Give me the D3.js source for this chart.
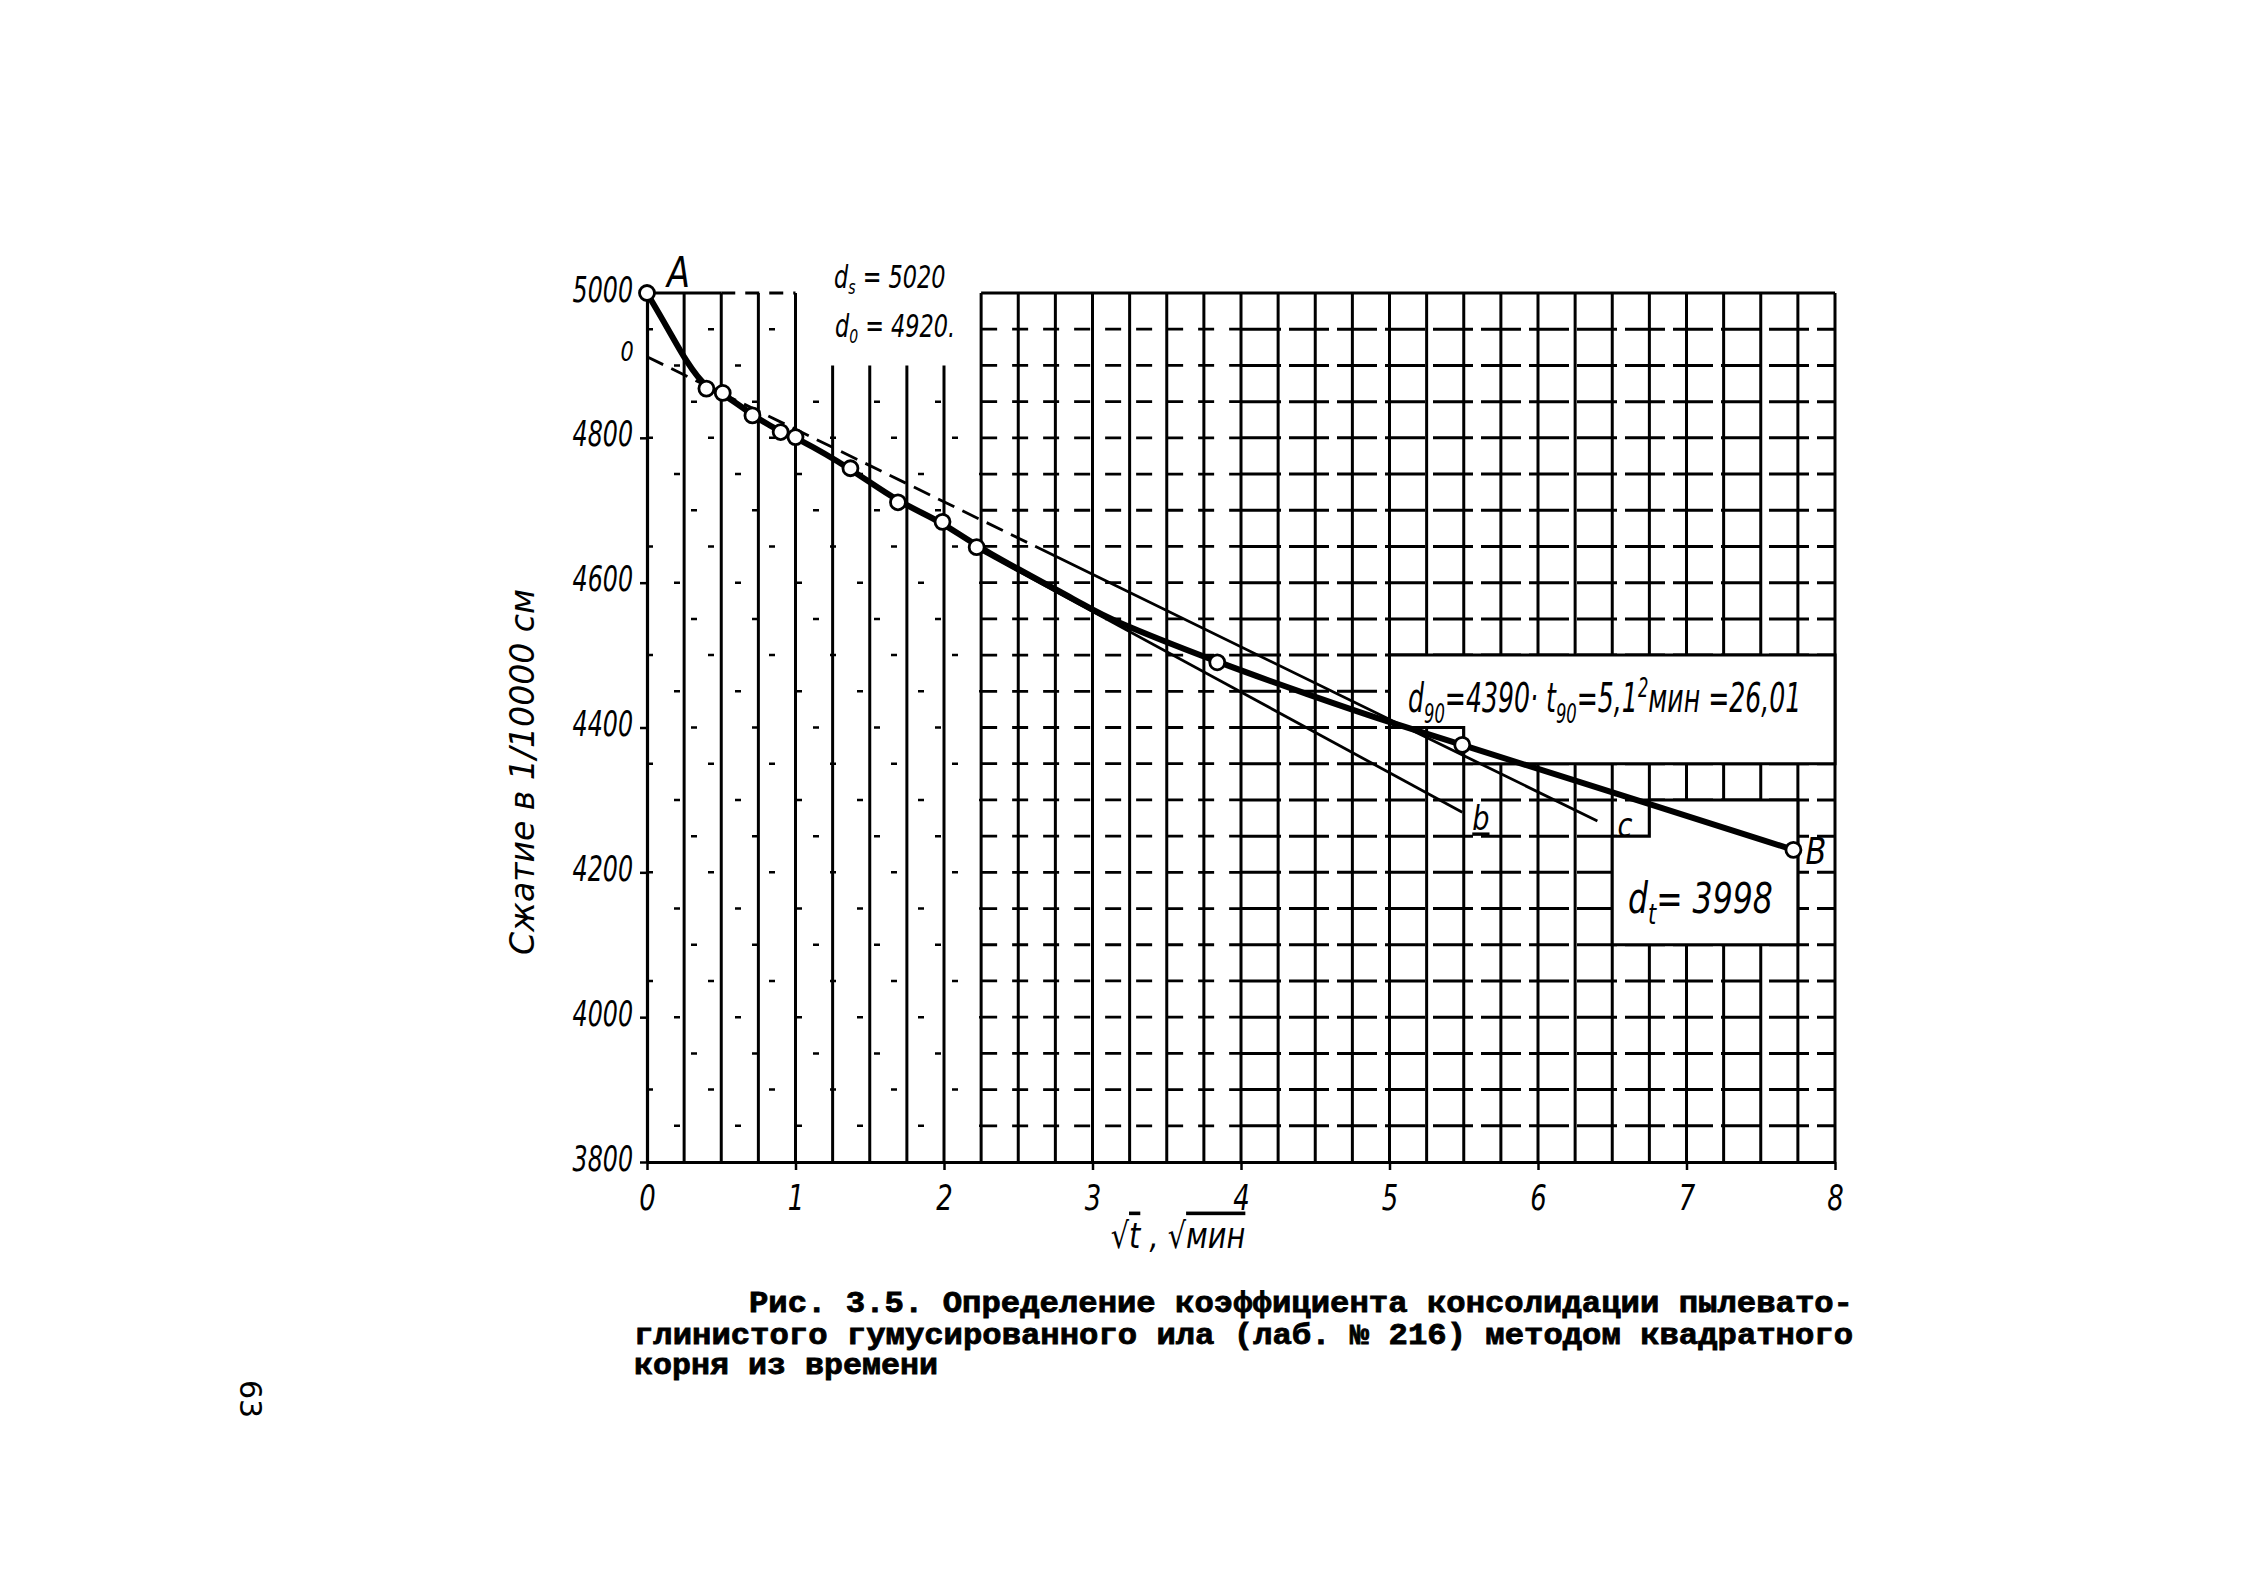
<!DOCTYPE html>
<html><head><meta charset="utf-8">
<script src="https://cdn.jsdelivr.net/npm/d3@7"></script>
<style>
html,body{margin:0;padding:0;background:#fff;}
svg{display:block;}
</style></head>
<body>
<svg id="chart" width="2244" height="1595"></svg>
<script>
// ---------------- data ----------------
const xTicks = [0, 1, 2, 3, 4, 5, 6, 7, 8];
const yTicks = [3800, 4000, 4200, 4400, 4600, 4800, 5000];
const yTickLabels = ["3800", "4000", "4200", "4400", "4600", "4800", "5000"];

// thick experimental curve A -> B
const curveX = [0, 0.135, 0.27, 0.40, 0.51, 0.71, 0.90, 1.00, 1.37, 1.69, 1.99, 2.22, 2.98, 3.07, 3.84, 4.46, 4.97, 5.49, 6.45, 7.72];
const curveY = [5000, 4953, 4903, 4868, 4862, 4831, 4808, 4801, 4758, 4711, 4684, 4649, 4566, 4553, 4490, 4445, 4409, 4376, 4314, 4231];

// measured points (open circles)
const pointX = [0, 0.40, 0.51, 0.71, 0.90, 1.00, 1.37, 1.69, 1.99, 2.22, 3.84, 5.49, 7.72];
const pointY = [5000, 4868, 4862, 4831, 4808, 4801, 4758, 4711, 4684, 4649, 4490, 4376, 4231];

// construction lines
const lineBX = [2.22, 5.49];
const lineBY = [4647, 4283];
const lineCX = [0, 6.40];
const lineCY = [4912, 4271];
const lineCDashedUntil = 2.6;

// white label boxes (data space vertices)
const boxD90 = [[5, 4400], [5, 4500], [8, 4500], [8, 4350], [5.5, 4350], [5.5, 4400]];
const boxDt = [[6.5, 4100], [6.5, 4250], [6.75, 4250], [6.75, 4300], [7.75, 4300], [7.75, 4100]];

const captionLines = [
  "Рис. 3.5. Определение коэффициента консолидации пылевато-",
  "глинистого гумусированного ила (лаб. № 216) методом квадратного",
  "корня из времени"
];

// ---------------- drawing ----------------
const svg = d3.select("#chart");
const hand = "'DejaVu Sans','Liberation Sans',sans-serif";
const mono = "'Liberation Mono','DejaVu Sans Mono',monospace";

const x = d3.scaleLinear().domain([0, 8]).range([647, 1835]);
const y = d3.scaleLinear().domain([3800, 5000]).range([1162, 293]);

const grid = svg.append("g").attr("stroke", "#000").attr("fill", "none");

// horizontal grid lines (every 50)
const hVals = d3.range(3850, 5000, 50);
hVals.forEach(v => {
  const leftEnd = v >= 4900 ? 1.0 : 2.25;
  grid.append("line").attr("x1", x(0)).attr("x2", x(leftEnd)).attr("y1", y(v)).attr("y2", y(v))
    .attr("stroke-width", 2.5).attr("stroke-dasharray", "6,55").attr("stroke-dashoffset", (v / 50) % 3 * 17);
  grid.append("line").attr("x1", x(2.25)).attr("x2", x(4.0)).attr("y1", y(v)).attr("y2", y(v))
    .attr("stroke-width", 2.8).attr("stroke-dasharray", "16,15");
  grid.append("line").attr("x1", x(4.0)).attr("x2", x(8)).attr("y1", y(v)).attr("y2", y(v))
    .attr("stroke-width", 3).attr("stroke-dasharray", "40,8");
});

// vertical grid lines (every 0.25)
const vVals = d3.range(0.25, 8.01, 0.25);
vVals.forEach(u => {
  const top = (u > 1.1 && u < 2.1) ? y(4900) : y(5000);
  grid.append("line").attr("x1", x(u)).attr("x2", x(u)).attr("y1", top).attr("y2", y(3800))
    .attr("stroke-width", 3);
});

// top border pieces
grid.append("line").attr("x1", x(0)).attr("x2", x(0.5)).attr("y1", y(5000)).attr("y2", y(5000)).attr("stroke-width", 3);
grid.append("line").attr("x1", x(0.5)).attr("x2", x(1.0)).attr("y1", y(5000)).attr("y2", y(5000)).attr("stroke-width", 3).attr("stroke-dasharray", "14,10");
grid.append("line").attr("x1", x(2.25)).attr("x2", x(8)).attr("y1", y(5000)).attr("y2", y(5000)).attr("stroke-width", 3.2);

// white boxes
const poly = d3.line().x(d => x(d[0])).y(d => y(d[1]));
[boxD90, boxDt].forEach(b => {
  svg.append("path").attr("d", poly(b) + "Z").attr("fill", "#fff").attr("stroke", "#000").attr("stroke-width", 3);
});

// axes
const xAxis = d3.axisBottom(x).tickValues(xTicks).tickSize(8).tickSizeOuter(0).tickPadding(0)
  .tickFormat(d3.format("d"));
const gx = svg.append("g").attr("transform", `translate(0,${y(3800)})`).call(xAxis);
gx.select(".domain").attr("stroke", "#000").attr("stroke-width", 3.2);
gx.selectAll(".tick line").attr("stroke", "#000").attr("stroke-width", 2.5);
gx.selectAll(".tick text").attr("font-family", hand).attr("font-style", "italic")
  .attr("font-size", 36).attr("fill", "#000").attr("y", 0).attr("dy", null)
  .attr("transform", "translate(0,48) scale(0.72,1)");

const yAxis = d3.axisLeft(y).tickValues(yTicks).tickSize(7).tickSizeOuter(0).tickPadding(0)
  .tickFormat((d, i) => yTickLabels[i]);
const gy = svg.append("g").attr("transform", `translate(${x(0)},0)`).call(yAxis);
gy.select(".domain").attr("stroke", "#000").attr("stroke-width", 3.2);
gy.selectAll(".tick line").attr("stroke", "#000").attr("stroke-width", 2.5);
gy.selectAll(".tick text").attr("font-family", hand).attr("font-style", "italic")
  .attr("font-size", 36).attr("fill", "#000").attr("x", 0).attr("dy", null)
  .attr("transform", "translate(-14,8) scale(0.66,1)");

// construction lines
const lineGen = d3.line().x(d => x(d[0])).y(d => y(d[1]));
const cPath = svg.append("path").attr("d", lineGen(lineCX.map((v, i) => [v, lineCY[i]])))
  .attr("fill", "none").attr("stroke", "#000").attr("stroke-width", 2.8);
{
  const L = cPath.node().getTotalLength();
  const frac = (lineCDashedUntil - lineCX[0]) / (lineCX[1] - lineCX[0]);
  const dashLen = L * frac;
  const pattern = [];
  let acc = 0;
  while (acc < dashLen) { pattern.push(18, 9); acc += 27; }
  pattern.push(L);
  cPath.attr("stroke-dasharray", pattern.join(","));
}
svg.append("path").attr("d", lineGen(lineBX.map((v, i) => [v, lineBY[i]])))
  .attr("fill", "none").attr("stroke", "#000").attr("stroke-width", 2.8);

// main curve
const curveGen = d3.line().x(d => x(d[0])).y(d => y(d[1])).curve(d3.curveBasis);
svg.append("path").attr("d", curveGen(curveX.map((v, i) => [v, curveY[i]])))
  .attr("fill", "none").attr("stroke", "#000").attr("stroke-width", 6).attr("stroke-linejoin", "round");

// points
svg.append("g").selectAll("circle").data(pointX.map((v, i) => [v, pointY[i]])).join("circle")
  .attr("cx", d => x(d[0])).attr("cy", d => y(d[1])).attr("r", 7.5)
  .attr("fill", "#fff").attr("stroke", "#000").attr("stroke-width", 2.8);

// ---------------- texts ----------------
function label(xp, yp, size, sx) {
  const g = svg.append("g").attr("transform", `translate(${xp},${yp}) scale(${sx || 0.75},1)`);
  return g.append("text").attr("x", 0).attr("y", 0).attr("font-family", hand)
    .attr("font-style", "italic").attr("font-size", size).attr("fill", "#000");
}
label(x(0) + 20, y(5000) - 6, 42, 0.8).text("A");
label(x(7.72) + 12, y(4231) + 14, 38, 0.8).text("B");
label(x(5.49) + 10, y(4283) + 18, 34, 0.8).attr("text-decoration", "underline").text("b");
label(x(6.40) + 20, y(4271) + 16, 34, 0.8).text("c");
label(x(0) - 20, y(4920) + 10, 26, 0.8).attr("text-anchor", "middle").text("0");

// d_s, d_0
const ds = label(834, 288, 32, 0.7);
ds.append("tspan").text("d");
ds.append("tspan").attr("font-size", 20).attr("dy", 6).text("s");
ds.append("tspan").attr("dy", -6).text(" = 5020");
const d0 = label(835, 337, 32, 0.7);
d0.append("tspan").text("d");
d0.append("tspan").attr("font-size", 20).attr("dy", 6).text("0");
d0.append("tspan").attr("dy", -6).text(" = 4920.");

// d90 / t90
const d90 = label(1408, 712, 40, 0.63);
d90.append("tspan").text("d");
d90.append("tspan").attr("font-size", 26).attr("dy", 11).text("90");
d90.append("tspan").attr("dy", -11).text("=4390·  t");
d90.append("tspan").attr("font-size", 26).attr("dy", 11).text("90");
d90.append("tspan").attr("dy", -11).text("=5,1");
d90.append("tspan").attr("font-size", 26).attr("dy", -15).text("2");
d90.append("tspan").attr("dy", 15).text("мин =26,01");

// dt
const dt = label(1628, 913, 42, 0.75);
dt.append("tspan").text("d");
dt.append("tspan").attr("font-size", 28).attr("dy", 11).text("t");
dt.append("tspan").attr("dy", -11).text("= 3998");

// axis titles
svg.append("text").attr("transform", "translate(534,772) rotate(-90)")
  .attr("text-anchor", "middle").attr("font-family", hand).attr("font-style", "italic")
  .attr("font-size", 34).attr("fill", "#000")
  .attr("textLength", 366).attr("lengthAdjust", "spacingAndGlyphs")
  .text("Сжатие в 1/10000 см");

const xt = label(1178, 1248, 36, 0.8).attr("text-anchor", "middle");
xt.append("tspan").text("√");
xt.append("tspan").attr("text-decoration", "overline").text("t");
xt.append("tspan").text(" , √");
xt.append("tspan").attr("text-decoration", "overline").text("мин");

// caption
const capX = [749, 634, 634];
const capY = [1312, 1344, 1374];
const capW = [1104, 1219, 304];
captionLines.forEach((t, i) => {
  svg.append("text").attr("x", capX[i]).attr("y", capY[i])
    .attr("font-family", mono).attr("font-weight", "bold").attr("font-size", 29)
    .attr("fill", "#000").attr("stroke", "#000").attr("stroke-width", 0.8)
    .attr("textLength", capW[i]).attr("lengthAdjust", "spacingAndGlyphs")
    .text(t);
});

// page number
svg.append("text").attr("transform", "translate(240,1399) rotate(90)")
  .attr("text-anchor", "middle").attr("font-family", hand).attr("font-size", 30)
  .attr("fill", "#000").text("63");
</script>
</body></html>
